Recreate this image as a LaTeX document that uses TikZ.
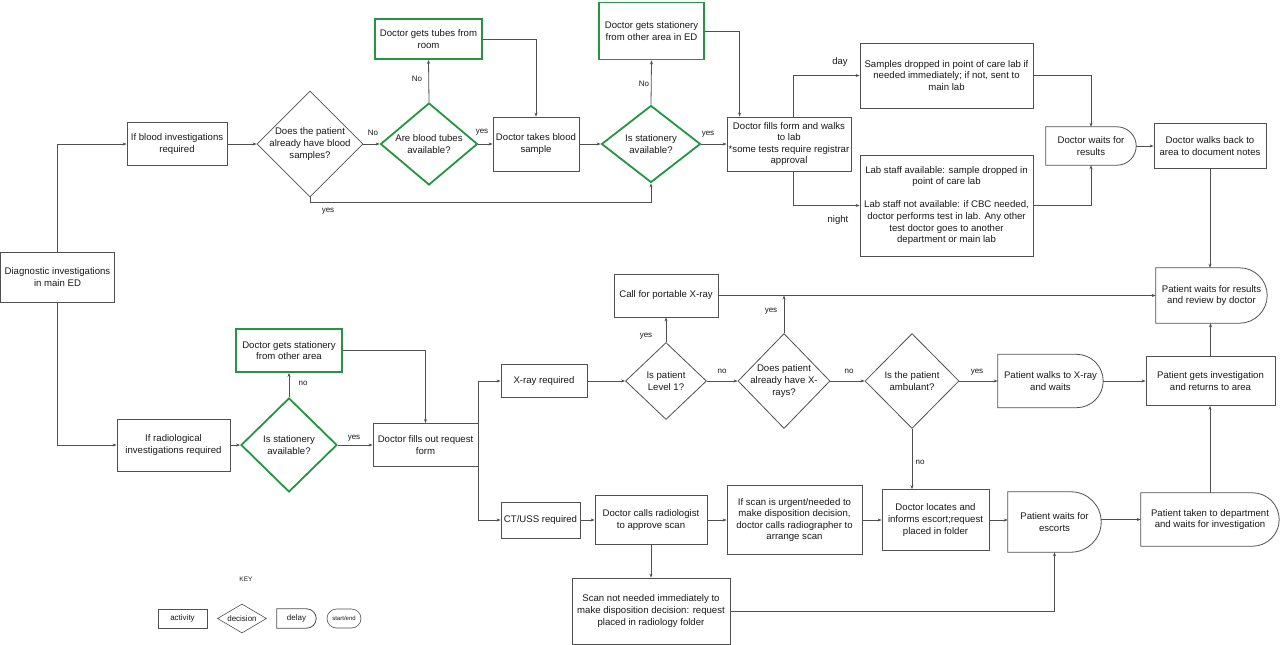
\documentclass[tikz,border=0pt]{standalone}
\usepackage{fontspec}
\setmainfont{Liberation Sans}
\usetikzlibrary{shapes.geometric,arrows.meta,calc}
\definecolor{lc}{RGB}{80,80,80}
\definecolor{gc}{RGB}{35,150,65}
\definecolor{tc}{RGB}{25,25,25}
\tikzset{
 base/.style={inner sep=1pt, align=center, text=tc, font=\fontsize{9.6}{11.6}\selectfont},
 box/.style={base, draw=lc, line width=0.8pt, rectangle},
 gbox/.style={base, draw=gc, line width=1.8pt, rectangle},
 dbox/.style={base, rectangle},
 dia/.style={base, diamond, draw=lc, line width=0.8pt, inner sep=0pt},
 gdia/.style={base, diamond, draw=gc, line width=1.8pt, inner sep=0pt},
 sz/.style 2 args={minimum width=#1pt, minimum height=#2pt},
 arr/.style={draw=lc, line width=0.8pt, -{Stealth[length=4pt,width=3pt]}},
 boxline/.style={draw=lc, line width=0.8pt},
 lbl/.style={font=\fontsize{8}{9}\selectfont, text=tc, inner sep=0pt},
 biglbl/.style={font=\fontsize{9.5}{11}\selectfont, text=tc, inner sep=0pt},
 every label/.style={base, inner sep=0pt},
}
\newcommand\delayshape[1]{\draw[boxline] let \p1=(#1.north west), \p2=(#1.south east), \n1={(\y1-\y2)/2} in (\p1) -- (\x2-\n1,\y1) arc[start angle=90,end angle=-90,radius=\n1] -- (\x1,\y2) -- cycle;}
\begin{document}
\begin{tikzpicture}[x=1pt,y=-1pt]
\fill[white] (0,0) rectangle (1280,645);
\useasboundingbox (0,0) rectangle (1280,645);

% ---------- top (blood) ----------
\node[box, sz={114}{50}] (diag) at (57.5,277) {Diagnostic investigations\\in main ED};
\node[box, sz={100}{43}] (blood) at (177,144) {If blood investigations\\required};
\node[dia, sz={106}{106}, label={center:{Does the patient\\already have blood\\samples?}}] (d1) at (310,144) {};
\node[gdia, sz={97}{82}, label={center:{Are blood tubes\\available?}}] (d2) at (429,144) {};
\node[gbox, sz={107}{40}] (tubes) at (428.5,39) {Doctor gets tubes from\\room};
\node[box, sz={86}{54}] (take) at (536,144) {Doctor takes blood\\sample};
\node[gdia, sz={99}{77}, label={center:{Is stationery\\available?}}] (d3) at (651,144) {};
\node[gbox, sz={105}{57}] (stat1) at (651.5,31) {Doctor gets stationery\\from other area in ED};
\node[box, sz={124}{54}] (fills) at (789,144) {Doctor fills form and walks\\to lab\\*some tests require registrar\\approval};
\node[box, sz={173}{65}] (samples) at (946.5,75.5) {Samples dropped in point of care lab if\\needed immediately; if not, sent to\\main lab};
\node[box, sz={173}{101}] (lab) at (946.5,205.5) {Lab staff available: sample dropped in\\point of care lab\\[11.6pt]Lab staff not available: if CBC needed,\\doctor performs test in lab. Any other\\test doctor goes to another\\department or main lab};
\node[dbox, sz={90}{38}] (dwait) at (1091,146) {Doctor waits for\\results};
\delayshape{dwait}
\node[box, sz={112}{45}] (walkback) at (1210,146) {Doctor walks back to\\area to document notes};
\node[dbox, sz={111}{55}] (pwait) at (1211.5,295.5) {Patient waits for results\\and review by doctor};
\delayshape{pwait}

% ---------- lower (radiology) ----------
\node[gbox, sz={106}{43}] (stat2) at (289,350.5) {Doctor gets stationery\\from other area};
\node[gdia, sz={96}{94}, label={center:{Is stationery\\available?}}] (d4) at (289,445) {};
\node[box, sz={113}{52}] (rad) at (173.5,445) {If radiological\\investigations required};
\node[box, sz={105}{43}] (req) at (425.5,445) {Doctor fills out request\\form};
\node[box, sz={86}{33}] (xray) at (544,381) {X-ray required};
\node[dia, sz={81}{77}, label={center:{Is patient\\Level 1?}}] (d5) at (666,381) {};
\node[box, sz={104}{43}] (call) at (666,295.5) {Call for portable X-ray};
\node[dia, sz={92}{95}, label={center:{Does patient\\already have X-\\rays?}}] (d6) at (784,381) {};
\node[dia, sz={94}{95}, label={center:{Is the patient\\ambulant?}}] (d7) at (912,381) {};
\node[dbox, sz={105}{53}] (pwalk) at (1050.5,381) {Patient walks to X-ray\\and waits};
\delayshape{pwalk}
\node[box, sz={129}{49}] (pgets) at (1210.5,381) {Patient gets investigation\\and returns to area};
\node[box, sz={79}{36}] (ct) at (540.5,520) {CT/USS required};
\node[box, sz={112}{49}] (callrad) at (651,520) {Doctor calls radiologist\\to approve scan};
\node[box, sz={135}{69}] (urgent) at (794.5,520) {If scan is urgent/needed to\\make disposition decision,\\doctor calls radiographer to\\arrange scan};
\node[box, sz={107}{61}] (locate) at (935.5,520) {Doctor locates and\\informs escort;request\\placed in folder};
\node[dbox, sz={93}{60}] (escort) at (1054.5,522) {Patient waits for\\escorts};
\delayshape{escort}
\node[dbox, sz={138}{53}] (taken) at (1210,519.5) {Patient taken to department\\and waits for investigation};
\delayshape{taken}
\node[box, sz={158}{66}] (notneeded) at (651,611) {Scan not needed immediately to\\make disposition decision: request\\placed in radiology folder};

% ---------- key ----------
\node[lbl, font=\fontsize{6.5}{8}\selectfont] (key) at (246,579) {KEY};
\node[box, sz={49}{19}, line width=0.6pt, font=\fontsize{8}{9}\selectfont] (kact) at (182.5,618.5) {activity};
\node[dia, sz={49}{29}, line width=0.6pt, label={[font=\fontsize{8}{9}\selectfont]center:decision}] (kdec) at (242,618.5) {};
\node[dbox, sz={39}{19}, font=\fontsize{8}{9}\selectfont] (kdel) at (296.5,618.5) {delay};
\delayshape{kdel}
\node[box, sz={34}{19}, line width=0.6pt, rounded corners=9.5pt, font=\fontsize{6}{7}\selectfont] (kse) at (344,618.5) {start/end};

% ---------- connectors: top ----------
\draw[arr] (diag.north) |- (blood.west);
\draw[arr] (blood) -- (d1);
\draw[arr] (d1) -- (d2);
\draw[arr] (d2.north) -- (tubes.south);
\draw[arr] (tubes.east) -| (take.north);
\draw[arr] (d2) -- (take);
\draw[arr] (take) -- (d3);
\draw[arr] (d3.north) -- (stat1.south);
\draw[arr] (stat1.east) -| ([xshift=13pt]fills.north west);
\draw[arr] (d3) -- (fills);
\draw[arr] (d1.south) -- ++(0,5) -| (d3.south);
\draw[arr] ([xshift=4pt]fills.north) |- (samples.west);
\draw[arr] ([xshift=4pt]fills.south) |- (lab.west);
\draw[arr] (samples.east) -| (dwait.north);
\draw[arr] (lab.east) -| (dwait.south);
\draw[arr] (dwait.east) -- (dwait.east -| walkback.west);
\draw[arr] (walkback.south) -- (walkback.south |- pwait.north);
\draw[arr] (call.east) -- (call.east -| pwait.west);

% ---------- connectors: lower ----------
\draw[arr] (diag.south) |- (rad.west);
\draw[arr] (rad) -- (d4);
\draw[arr] (d4) -- (req);
\draw[arr] (d4.north) -- (stat2.south);
\draw[arr] (stat2.east) -| (req.north);
\draw[arr] (req.north east) |- (xray.west);
\draw[arr] (req.south east) |- (ct.west);
\draw[arr] (xray) -- (d5);
\draw[arr] (d5.north) -- (call.south);
\draw[arr] (d5) -- (d6);
\draw[arr] (d6.north) -- (d6.north |- call.east);
\draw[arr] (d6) -- (d7);
\draw[arr] (d7) -- (pwalk);
\draw[arr] (pwalk.east) -- (pwalk.east -| pgets.west);
\draw[arr] (pgets.north) -- (pgets.north |- pwait.south);
\draw[arr] (d7.south) -- (d7.south |- locate.north);
\draw[arr] (ct) -- (callrad);
\draw[arr] (callrad) -- (urgent);
\draw[arr] (urgent) -- (locate);
\draw[arr] (callrad.south) -- (notneeded.north);
\draw[arr] (locate.east) -- (locate.east -| escort.west);
\draw[arr] (escort.east |- taken.west) -- (taken.west);
\draw[arr] (notneeded.east) -| (escort.south);
\draw[arr] (taken.north) -- (taken.north |- pgets.south);

% ---------- connector labels ----------
\node[lbl] (l1) at (373,133) {No};
\node[lbl] (l2) at (417,79) {No};
\node[lbl] (l3) at (482,132) {yes};
\node[lbl] (l4) at (644,84) {No};
\node[lbl] (l5) at (708,134) {yes};
\node[lbl] (l6) at (328,211) {yes};
\node[biglbl] (lday) at (840,62) {day};
\node[biglbl] (lnight) at (838,220) {night};
\node[lbl] (l7) at (303,383) {no};
\node[lbl] (l8) at (354,438) {yes};
\node[lbl] (l9) at (646,336) {yes};
\node[lbl] (l10) at (771,311) {yes};
\node[lbl] (l11) at (722,371) {no};
\node[lbl] (l12) at (849,371) {no};
\node[lbl] (l13) at (977,372) {yes};
\node[lbl] (l14) at (920,462) {no};
\end{tikzpicture}
\end{document}
